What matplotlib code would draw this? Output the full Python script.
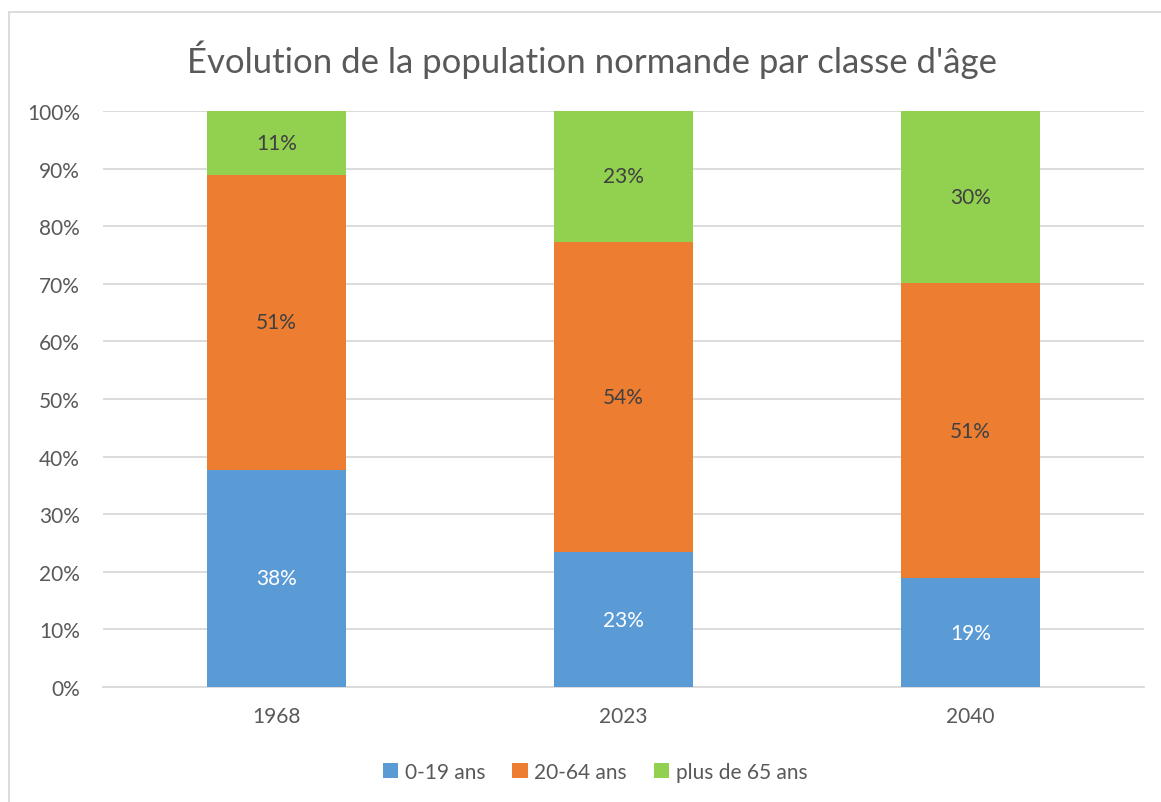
import matplotlib
matplotlib.use("Agg")
import matplotlib.pyplot as plt
from matplotlib.patches import Rectangle
from matplotlib.ticker import PercentFormatter

plt.rcParams["font.family"] = ["Lato", "DejaVu Sans"]

# data (shares in %)
years = ["1968", "2023", "2040"]
jeunes = [37.7, 23.4, 18.9]      # 0-19 ans
actifs = [51.2, 53.9, 51.2]      # 20-64 ans
seniors = [11.1, 22.7, 29.9]     # plus de 65 ans
series_names = ["0-19 ans", "20-64 ans", "plus de 65 ans"]

colors = ["#5B9BD5", "#ED7D31", "#92D050"]
label_colors = ["white", "#404040", "#404040"]
GREY = "#595959"
GRID = "#D9D9D9"
FS = 15

W, H = 1161, 803
fig = plt.figure(figsize=(W / 100, H / 100), dpi=100)
ax = fig.add_axes([103 / W, 1 - 688 / H, 1041 / W, 576 / H])

# chart frame (only top/left visible in the crop)
fig.patches.append(Rectangle((9 / W, -0.1), 1.2, 1 - 13 / H + 0.1,
                             transform=fig.transFigure, fill=False,
                             edgecolor=GRID, lw=1.3))

x = range(len(years))
bottom = [0.0] * len(years)
for vals, name, col, lc in zip([jeunes, actifs, seniors], series_names,
                               colors, label_colors):
    bars = ax.bar(x, vals, width=0.4, bottom=bottom, color=col, label=name,
                  zorder=3)
    ax.bar_label(bars, labels=[f"{v:.0f}%" for v in vals], label_type="center",
                 color=lc, fontsize=FS)
    bottom = [b + v for b, v in zip(bottom, vals)]

ax.set_xlim(-0.5, 2.5)
ax.set_ylim(0, 100)
ax.set_yticks(range(0, 101, 10))
ax.yaxis.set_major_formatter(PercentFormatter(decimals=0))
ax.set_xticks(list(x), years)
ax.grid(axis="y", color=GRID, lw=1.3, zorder=0)
for s in ["top", "right", "left"]:
    ax.spines[s].set_visible(False)
ax.spines["bottom"].set_color(GRID)
ax.spines["bottom"].set_linewidth(1.3)
ax.tick_params(axis="both", length=0, colors=GREY, labelsize=FS)
ax.tick_params(axis="y", pad=16.5)
ax.tick_params(axis="x", pad=14)

fig.text(592 / W, 1 - 60 / H, "Évolution de la population normande par classe d'âge",
         ha="center", va="center", fontsize=25, color=GREY)

ax.legend(loc="center", bbox_to_anchor=(595 / W, 1 - 773 / H),
          bbox_transform=fig.transFigure, ncol=3, frameon=False,
          fontsize=FS, labelcolor=GREY, handlelength=0.75, handleheight=0.75,
          handletextpad=0.3, columnspacing=1.3)

fig.savefig("out.png", dpi=100, facecolor="white")
